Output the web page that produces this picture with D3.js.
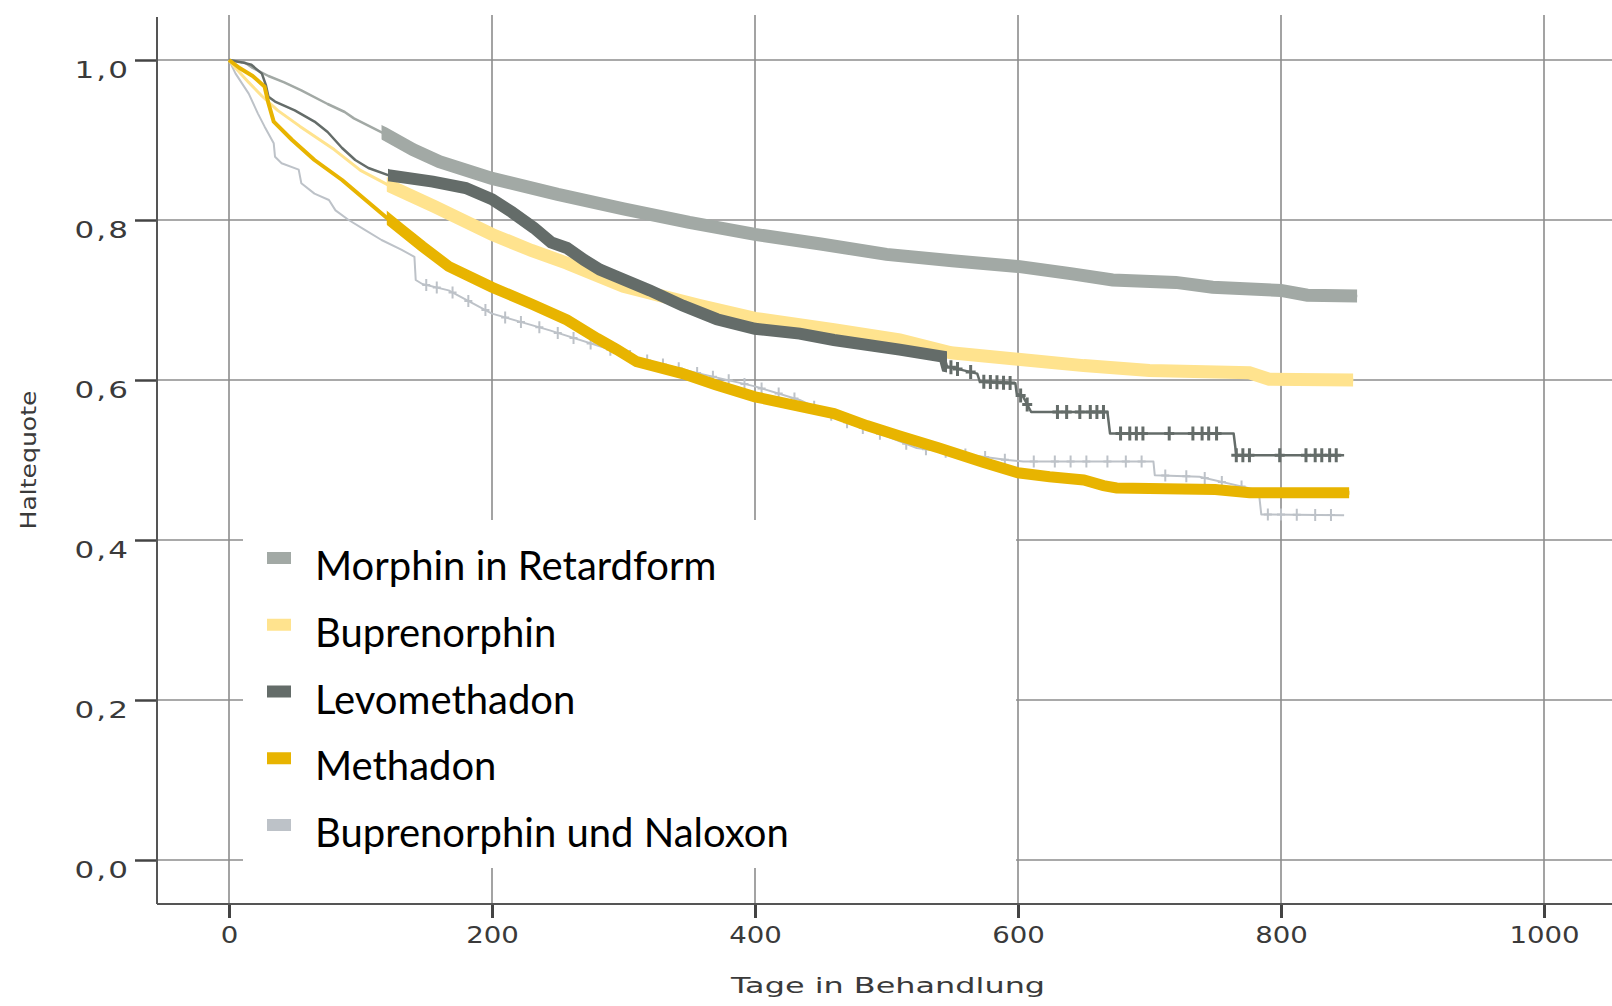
<!DOCTYPE html>
<html>
<head>
<meta charset="utf-8">
<script src="https://cdn.jsdelivr.net/npm/d3@7"></script>
<style>
  body { margin: 0; background: #fff; }
  svg { display: block; }
</style>
</head>
<body>
<div id="chart"></div>
<script>
// legend order
const seriesNames = ["Morphin in Retardform", "Buprenorphin", "Levomethadon", "Methadon", "Buprenorphin und Naloxon"];
const xTicks = [0, 200, 400, 600, 800, 1000];
const yTicks = [0, 0.2, 0.4, 0.6, 0.8, 1.0];

// Kaplan-Meier curves (days, Haltequote)
const morphinDays = [0, 12, 18, 30, 42, 55, 75, 88, 95, 118, 140, 160, 200, 250, 300, 350, 400, 450, 500, 550, 600, 640, 672, 720, 748, 800, 820, 858];
const morphinSurv = [1, 0.997, 0.99, 0.98, 0.972, 0.962, 0.945, 0.935, 0.927, 0.908, 0.888, 0.873, 0.852, 0.832, 0.814, 0.797, 0.782, 0.77, 0.757, 0.749, 0.742, 0.733, 0.725, 0.722, 0.716, 0.712, 0.706, 0.705];

const buprenDays = [0, 5, 15, 25, 37, 54, 80, 100, 123, 156, 200, 230, 257, 300, 358, 400, 460, 510, 549, 600, 650, 700, 776, 791, 855];
const buprenSurv = [1, 0.99, 0.972, 0.955, 0.937, 0.917, 0.888, 0.862, 0.842, 0.817, 0.782, 0.762, 0.746, 0.717, 0.693, 0.677, 0.663, 0.65, 0.634, 0.626, 0.618, 0.612, 0.609, 0.601, 0.6];

const levoDays = [0, 10, 17, 25, 28, 30, 35, 50, 65, 75, 86, 96, 106, 121, 155, 180, 200, 215, 232, 245, 257, 270, 282, 295, 320, 345, 371, 400, 434, 460, 510, 544, 546, 569, 571, 598, 599, 604, 610, 668, 670, 764, 766, 848];
const levoSurv = [1, 0.997, 0.994, 0.983, 0.969, 0.954, 0.948, 0.937, 0.923, 0.91, 0.89, 0.875, 0.865, 0.856, 0.848, 0.84, 0.826, 0.81, 0.79, 0.772, 0.765, 0.75, 0.738, 0.729, 0.712, 0.693, 0.676, 0.664, 0.658, 0.65, 0.638, 0.629, 0.617, 0.608, 0.598, 0.596, 0.583, 0.579, 0.56, 0.56, 0.533, 0.533, 0.506, 0.506];

const methDays = [0, 8, 18, 27, 30, 34, 48, 65, 86, 101, 119, 131, 147, 167, 200, 230, 257, 280, 295, 310, 345, 370, 400, 434, 460, 485, 510, 540, 574, 600, 624, 650, 665, 675, 750, 776, 852];
const methSurv = [1, 0.99, 0.98, 0.967, 0.946, 0.923, 0.9, 0.875, 0.85, 0.829, 0.804, 0.788, 0.767, 0.742, 0.716, 0.695, 0.675, 0.652, 0.638, 0.623, 0.608, 0.594, 0.579, 0.567, 0.558, 0.543, 0.53, 0.515, 0.497, 0.484, 0.479, 0.475, 0.468, 0.465, 0.463, 0.459, 0.459];

const naloxDays = [0, 5, 15, 22, 27, 34, 35, 40, 53, 55, 65, 76, 81, 91, 103, 116, 131, 141, 142, 147, 167, 200, 244, 307, 358, 400, 434, 473, 500, 523, 592, 604, 703, 704, 738, 783, 785, 848];
const naloxSurv = [1, 0.983, 0.958, 0.933, 0.917, 0.896, 0.879, 0.871, 0.863, 0.846, 0.833, 0.825, 0.812, 0.8, 0.788, 0.775, 0.763, 0.754, 0.725, 0.72, 0.712, 0.683, 0.662, 0.629, 0.608, 0.592, 0.575, 0.545, 0.53, 0.515, 0.5, 0.498, 0.498, 0.481, 0.479, 0.462, 0.432, 0.431];

// stretches of dense censoring (drawn as a band), in days
const denseFrom = [116, 120, 121, 120, null];
const denseTo = [858, 855, 546, 852, null];

// single censor marks (days)
const levoCensor = [549, 554, 564, 574, 579, 584, 589, 594, 602, 607, 630, 637, 647, 655, 660, 665, 678, 685, 690, 695, 715, 733, 740, 745, 751, 766, 771, 776, 799, 819, 826, 831, 837, 842];
const naloxCensor = [150, 158, 170, 182, 195, 210, 222, 236, 250, 262, 275, 290, 305, 318, 330, 342, 356, 368, 380, 392, 405, 418, 430, 445, 458, 470, 482, 495, 515, 530, 545, 560, 575, 590, 612, 628, 640, 652, 668, 682, 694, 712, 728, 742, 755, 770, 790, 800, 812, 826, 838];

// styles
const colors = ["#a2a9a5", "#ffe38e", "#646c69", "#e8b400", "#bdc2c8"];
const thinW = [2.5, 3, 2.5, 4, 2];
const bandW = [13, 13, 12, 11, 0];

const series = [
  { days: morphinDays, surv: morphinSurv, censor: [] },
  { days: buprenDays, surv: buprenSurv, censor: [] },
  { days: levoDays, surv: levoSurv, censor: levoCensor },
  { days: methDays, surv: methSurv, censor: [] },
  { days: naloxDays, surv: naloxSurv, censor: naloxCensor }
];
const drawOrder = [4, 1, 0, 2, 3];

const W = 1612, H = 1006;
const plotLeft = 157, plotBottom = 904, plotTop = 15;

const svg = d3.select("#chart").append("svg")
  .attr("width", W)
  .attr("height", H);

const x = d3.scaleLinear().domain([0, 1000]).range([229, 1544]);
const y = d3.scaleLinear().domain([0, 1]).range([860, 60]);

const fmt = d3.formatLocale({ decimal: ",", thousands: ".", grouping: [3], currency: ["", "€"] }).format(".1f");

// grid
svg.append("g")
  .selectAll("line")
  .data(xTicks)
  .join("line")
  .attr("x1", d => x(d)).attr("x2", d => x(d))
  .attr("y1", plotTop).attr("y2", plotBottom)
  .attr("stroke", "#8c8c8c")
  .attr("stroke-width", 1.6);
svg.append("g")
  .selectAll("line")
  .data(yTicks)
  .join("line")
  .attr("x1", plotLeft).attr("x2", W)
  .attr("y1", d => y(d)).attr("y2", d => y(d))
  .attr("stroke", "#8c8c8c")
  .attr("stroke-width", 1.6);

// axes
svg.append("g")
  .attr("transform", `translate(${plotLeft},0)`)
  .call(d3.axisLeft(y).tickValues(yTicks).tickSize(22).tickFormat(fmt))
  .call(g => g.select(".domain").remove())
  .call(g => g.selectAll(".tick line").attr("stroke", "#444").attr("stroke-width", 2.5))
  .call(g => g.selectAll(".tick text")
    .attr("x", null).attr("dy", null)
    .attr("transform", "translate(-27,17) scale(1.35,1)")
    .attr("text-anchor", "end")
    .attr("font-family", "DejaVu Sans")
    .attr("font-size", 23)
    .attr("letter-spacing", 1.5)
    .attr("fill", "#3a3a3a"));

svg.append("g")
  .attr("transform", `translate(0,${plotBottom})`)
  .call(d3.axisBottom(x).tickValues(xTicks).tickSize(14).tickFormat(d3.format("d")))
  .call(g => g.select(".domain").remove())
  .call(g => g.selectAll(".tick line").attr("stroke", "#444").attr("stroke-width", 3))
  .call(g => g.selectAll(".tick text")
    .attr("y", null).attr("dy", null)
    .attr("transform", "translate(0,39) scale(1.2,1)")
    .attr("text-anchor", "middle")
    .attr("font-family", "DejaVu Sans")
    .attr("font-size", 23)
    .attr("fill", "#3a3a3a"));

svg.append("line")
  .attr("x1", plotLeft).attr("x2", plotLeft).attr("y1", 17).attr("y2", plotBottom)
  .attr("stroke", "#555").attr("stroke-width", 2);
svg.append("line")
  .attr("x1", plotLeft).attr("x2", W).attr("y1", plotBottom).attr("y2", plotBottom)
  .attr("stroke", "#555").attr("stroke-width", 2);

// axis titles
svg.append("text")
  .attr("transform", "translate(888,993) scale(1.45,1)")
  .attr("text-anchor", "middle")
  .attr("font-family", "DejaVu Sans")
  .attr("font-size", 22)
  .attr("fill", "#3a3a3a")
  .text("Tage in Behandlung");
svg.append("text")
  .attr("transform", "translate(36,460) rotate(-90) scale(1.14,1)")
  .attr("text-anchor", "middle")
  .attr("font-family", "DejaVu Sans")
  .attr("font-size", 22)
  .attr("fill", "#3a3a3a")
  .text("Haltequote");

// curves
const line = d3.line().x(d => x(d[0])).y(d => y(d[1]));

function survAt(s, d) {
  const i = d3.bisectRight(s.days, d) - 1;
  if (i >= s.days.length - 1) return s.surv[s.surv.length - 1];
  const t = (d - s.days[i]) / (s.days[i + 1] - s.days[i]);
  return s.surv[i] + t * (s.surv[i + 1] - s.surv[i]);
}

const defs = svg.append("defs");
const curves = svg.append("g");

drawOrder.forEach(i => {
  const s = series[i];
  const pts = s.days.map((d, k) => [d, s.surv[k]]);
  const g = curves.append("g");

  g.append("path")
    .attr("d", line(pts))
    .attr("fill", "none")
    .attr("stroke", colors[i])
    .attr("stroke-width", thinW[i])
    .attr("stroke-linejoin", "round");

  if (denseFrom[i] != null) {
    defs.append("clipPath").attr("id", "band" + i)
      .append("rect")
      .attr("x", x(denseFrom[i])).attr("width", x(denseTo[i]) - x(denseFrom[i]))
      .attr("y", 0).attr("height", H);
    g.append("path")
      .attr("d", line(pts))
      .attr("clip-path", `url(#band${i})`)
      .attr("fill", "none")
      .attr("stroke", colors[i])
      .attr("stroke-width", bandW[i])
      .attr("stroke-linejoin", "miter");
  }

  const markH = i === 4 ? 6 : 7, markW = i === 4 ? 4 : 5;
  g.selectAll("path.censor")
    .data(s.censor)
    .join("path")
    .attr("class", "censor")
    .attr("d", d => {
      const px = x(d), py = y(survAt(s, d));
      return `M${px - markW},${py}H${px + markW}M${px},${py - markH}V${py + markH}`;
    })
    .attr("fill", "none")
    .attr("stroke", colors[i])
    .attr("stroke-width", i === 4 ? 2 : 3);
});

// legend
const lg = svg.append("g");
lg.append("rect")
  .attr("x", 243).attr("y", 520)
  .attr("width", 773).attr("height", 348)
  .attr("fill", "#fff");

const item = lg.selectAll("g.item")
  .data(seriesNames)
  .join("g")
  .attr("class", "item")
  .attr("transform", (d, k) => `translate(0,${552 + k * 66.75})`);
item.append("rect")
  .attr("x", 267).attr("y", 0)
  .attr("width", 24).attr("height", 12)
  .attr("fill", (d, k) => colors[k]);
item.append("text")
  .attr("x", 315).attr("y", 28)
  .attr("font-family", "Lato")
  .attr("font-size", 40)
  .attr("fill", "#000")
  .text(d => d);
</script>
</body>
</html>
